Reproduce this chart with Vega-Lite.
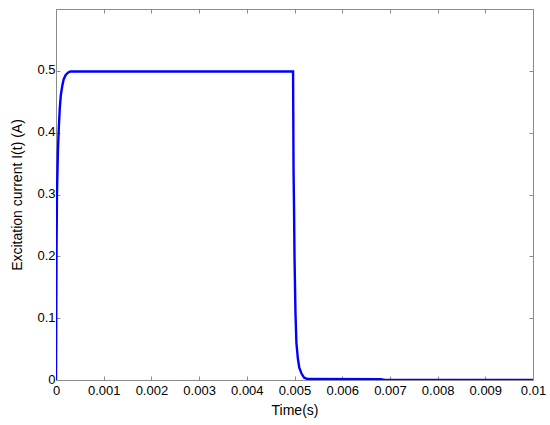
{
  "$schema": "https://vega.github.io/schema/vega-lite/v6.json",
  "width": 477,
  "height": 371,
  "autosize": {"type": "none"},
  "padding": {"left": 56, "top": 9, "right": 17, "bottom": 45},
  "background": "white",
  "config": {
    "view": {"stroke": null},
    "font": "Liberation Sans",
    "axis": {
      "grid": false,
      "domainColor": "#8c8c8c",
      "tickColor": "#8c8c8c",
      "tickSize": -4,
      "labelFont": "Liberation Sans",
      "labelFontSize": 13,
      "labelColor": "black",
      "titleFont": "Liberation Sans",
      "titleFontSize": 14,
      "titleFontWeight": "normal",
      "titleColor": "black"
    }
  },
  "data": {
    "values": [
      {"t": 0, "i": 0},
      {"t": 0.00001, "i": 0.2},
      {"t": 0.00002, "i": 0.3},
      {"t": 0.00004, "i": 0.37},
      {"t": 0.00006, "i": 0.41},
      {"t": 0.00008, "i": 0.44},
      {"t": 0.0001, "i": 0.46},
      {"t": 0.00013, "i": 0.475},
      {"t": 0.00016, "i": 0.486},
      {"t": 0.0002, "i": 0.493},
      {"t": 0.00025, "i": 0.497},
      {"t": 0.0003, "i": 0.499},
      {"t": 0.00497, "i": 0.499},
      {"t": 0.00498, "i": 0.34},
      {"t": 0.00499, "i": 0.28},
      {"t": 0.005, "i": 0.2},
      {"t": 0.00502, "i": 0.11},
      {"t": 0.00504, "i": 0.06},
      {"t": 0.00507, "i": 0.035},
      {"t": 0.0051, "i": 0.02},
      {"t": 0.00515, "i": 0.01},
      {"t": 0.0052, "i": 0.004},
      {"t": 0.00527, "i": 0.0015},
      {"t": 0.0068, "i": 0.0012},
      {"t": 0.0069, "i": 0},
      {"t": 0.01, "i": 0}
    ]
  },
  "layer": [
    {
      "mark": {"type": "line", "color": "#0000ff", "strokeWidth": 2.4, "clip": true},
      "encoding": {
        "x": {
          "field": "t", "type": "quantitative",
          "scale": {"domain": [0, 0.01], "nice": false},
          "axis": {"title": "Time(s)", "values": [0, 0.001, 0.002, 0.003, 0.004, 0.005, 0.006, 0.007, 0.008, 0.009, 0.01], "format": "~g", "labelPadding": 8, "titlePadding": 6, "labelFlush": false}
        },
        "y": {
          "field": "i", "type": "quantitative",
          "scale": {"domain": [0, 0.6], "nice": false},
          "axis": {"title": "Excitation current I(t) (A)", "values": [0, 0.1, 0.2, 0.3, 0.4, 0.5], "format": "~g", "labelPadding": 5, "titlePadding": 12, "labelOffset": -1}
        }
      }
    },
    {
      "mark": {"type": "line", "opacity": 0},
      "encoding": {
        "x": {
          "field": "t", "type": "quantitative",
          "scale": {"domain": [0, 0.01], "nice": false},
          "axis": {"orient": "top", "title": null, "labels": false, "values": [0, 0.001, 0.002, 0.003, 0.004, 0.005, 0.006, 0.007, 0.008, 0.009, 0.01]}
        },
        "y": {
          "field": "i", "type": "quantitative",
          "scale": {"domain": [0, 0.6], "nice": false},
          "axis": {"orient": "right", "title": null, "labels": false, "values": [0, 0.1, 0.2, 0.3, 0.4, 0.5, 0.6]}
        }
      }
    }
  ],
  "resolve": {"axis": {"x": "independent", "y": "independent"}}
}
